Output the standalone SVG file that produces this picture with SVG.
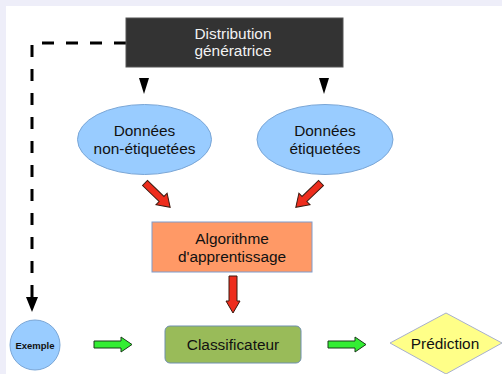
<svg xmlns="http://www.w3.org/2000/svg" width="502" height="374" viewBox="0 0 502 374">
  <defs>
    <style>
      text { font-family: "Liberation Sans", Arial, sans-serif; text-anchor: middle; fill: #111; }
      .lbl { font-size: 15.4px; }
      .dark-lbl { font-size: 15.4px; fill: #f2f2f2; }
      .ell { fill: #99ccff; stroke: #7aa6d6; stroke-width: 1; }
      .red { fill: #ee2d1d; stroke: #3a1a10; stroke-width: 1; }
      .green { fill: #33ee33; stroke: #1a3a1a; stroke-width: 1; }
      .tri { fill: #000; }
    </style>
    <!-- block arrow pointing along +x, tail at origin -->
    <polygon id="diag-arrow" class="red" points="0,-3.5 23,-3.5 23,-8 35,0 23,8 23,3.5 0,3.5"/>
  </defs>

  <!-- page background with framed white canvas -->
  <rect x="0" y="0" width="502" height="374" fill="#eeeef9"/>
  <rect x="6" y="6" width="496" height="368" fill="#ffffff"/>

  <!-- connectors -->
  <g id="connectors">
    <!-- dashed line from source down to the example -->
    <path d="M126 43 H32 V300" fill="none" stroke="#000" stroke-width="3" stroke-dasharray="12 12"/>
    <polygon class="tri" points="26,297 38,297 32,312"/>
    <!-- black heads under the source -->
    <polygon class="tri" points="139,78 149,78 144,94"/>
    <polygon class="tri" points="319,78 329,78 324,94"/>
    <!-- red block arrows into the algorithm -->
    <use href="#diag-arrow" transform="translate(145,183) rotate(44)"/>
    <use href="#diag-arrow" transform="translate(321,183) rotate(136)"/>
    <!-- red block arrow down to the classifier -->
    <polygon class="red" points="229,276 237,276 237,301 240,301 233,313 226,301 229,301"/>
    <!-- green block arrows along the bottom row -->
    <polygon class="green" points="94,341 121,341 121,337 132,344.5 121,352 121,348 94,348"/>
    <polygon class="green" points="328,341 355,341 355,337 366,344.5 355,352 355,348 328,348"/>
  </g>

  <g id="distribution">
    <rect x="126" y="18" width="217" height="49" fill="#333333" stroke="#555" stroke-width="1"/>
    <text class="dark-lbl" x="233" y="38.5">Distribution</text>
    <text class="dark-lbl" x="233" y="55.5">génératrice</text>
  </g>

  <g id="donnees-non-etiquetees">
    <ellipse class="ell" cx="144.5" cy="139.5" rx="67" ry="35"/>
    <text class="lbl" x="144.5" y="136">Données</text>
    <text class="lbl" x="144.5" y="154">non-étiquetées</text>
  </g>

  <g id="donnees-etiquetees">
    <ellipse class="ell" cx="325" cy="139.5" rx="68" ry="35"/>
    <text class="lbl" x="325" y="136">Données</text>
    <text class="lbl" x="325" y="154">étiquetées</text>
  </g>

  <g id="algorithme">
    <rect x="152" y="222" width="160" height="50" fill="#ff9966" stroke="#7f9ccc" stroke-width="1"/>
    <text class="lbl" x="232" y="244">Algorithme</text>
    <text class="lbl" x="232" y="262">d'apprentissage</text>
  </g>

  <g id="exemple">
    <circle cx="35" cy="345" r="25" fill="#99ccff" stroke="#7aa6d6" stroke-width="1"/>
    <text x="35" y="348.5" style="font-size:9.5px; font-weight:bold;">Exemple</text>
  </g>

  <g id="classificateur">
    <rect x="165" y="326" width="136" height="37" rx="5" fill="#99bb59" stroke="#6f8fae" stroke-width="1"/>
    <text class="lbl" x="233" y="350">Classificateur</text>
  </g>

  <g id="prediction">
    <polygon points="390,343 446,313 502,343 446,374" fill="#ffff88" stroke="#a8b0cc" stroke-width="1"/>
    <text class="lbl" x="445" y="349">Prédiction</text>
  </g>
</svg>
